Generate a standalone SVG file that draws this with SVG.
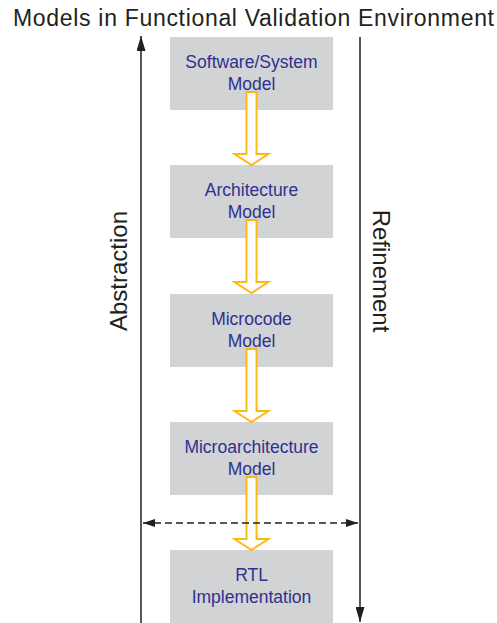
<svg xmlns="http://www.w3.org/2000/svg" width="497" height="623" viewBox="0 0 497 623">
  <style>
    .title { font-family: "Liberation Sans", Arial, sans-serif; font-size: 23px; fill: #231f20; }
    .side { font-family: "Liberation Sans", Arial, sans-serif; font-size: 24px; fill: #231f20; }
    .box { fill: #d1d3d4; }
    .label { font-family: "Liberation Sans", Arial, sans-serif; font-size: 17.5px; fill: #2e3192; text-anchor: middle; }
    .flow { fill: #ffffff; stroke: #fdb913; stroke-width: 2; stroke-linejoin: miter; }
    .axis { stroke: #231f20; stroke-width: 1.5; fill: none; }
    .dash { stroke: #231f20; stroke-width: 1.5; fill: none; stroke-dasharray: 7 4; }
  </style>
  <defs>
    <marker id="head" viewBox="0 0 15 9" refX="15" refY="4.5" markerWidth="15" markerHeight="9" markerUnits="userSpaceOnUse" orient="auto">
      <path d="M0,0 L15,4.5 L0,9 Z" fill="#231f20"/>
    </marker>
    <marker id="headSmall" viewBox="0 0 12 8" refX="12" refY="4" markerWidth="12" markerHeight="8" markerUnits="userSpaceOnUse" orient="auto-start-reverse">
      <path d="M0,0 L12,4 L0,8 Z" fill="#231f20"/>
    </marker>
  </defs>

  <text class="title" x="13" y="26" textLength="481" lengthAdjust="spacing">Models in Functional Validation Environment</text>

  <!-- side axes -->
  <g id="abstraction">
    <line class="axis" x1="141" y1="623" x2="141" y2="36" marker-end="url(#head)"/>
    <text class="side" transform="translate(127,271) rotate(-90)" text-anchor="middle">Abstraction</text>
  </g>
  <g id="refinement">
    <line class="axis" x1="360" y1="37" x2="360" y2="622" marker-end="url(#head)"/>
    <text class="side" transform="translate(373,271) rotate(90)" text-anchor="middle">Refinement</text>
  </g>

  <!-- model boxes -->
  <g id="software-system-model">
    <rect class="box" x="170" y="37" width="163" height="73"/>
    <text class="label" x="251.5" y="68">Software/System</text>
    <text class="label" x="251.5" y="90">Model</text>
  </g>
  <g id="architecture-model">
    <rect class="box" x="170" y="165" width="163" height="73"/>
    <text class="label" x="251.5" y="196">Architecture</text>
    <text class="label" x="251.5" y="218">Model</text>
  </g>
  <g id="microcode-model">
    <rect class="box" x="170" y="294" width="163" height="73"/>
    <text class="label" x="251.5" y="325">Microcode</text>
    <text class="label" x="251.5" y="347">Model</text>
  </g>
  <g id="microarchitecture-model">
    <rect class="box" x="170" y="422" width="163" height="73"/>
    <text class="label" x="251.5" y="453">Microarchitecture</text>
    <text class="label" x="251.5" y="475">Model</text>
  </g>
  <g id="rtl-implementation">
    <rect class="box" x="170" y="550" width="163" height="73"/>
    <text class="label" x="251.5" y="581">RTL</text>
    <text class="label" x="251.5" y="603">Implementation</text>
  </g>

  <!-- connectors -->
  <g id="connectors">
    <path class="flow" d="M246.5,92 H256.5 V154 H268.5 L251.5,165 L234.5,154 H246.5 Z"/>
    <path class="flow" d="M246.5,220 H256.5 V282 H268.5 L251.5,293 L234.5,282 H246.5 Z"/>
    <path class="flow" d="M246.5,349 H256.5 V411 H268.5 L251.5,422 L234.5,411 H246.5 Z"/>
    <path class="flow" d="M246.5,477 H256.5 V539 H268.5 L251.5,550 L234.5,539 H246.5 Z"/>
    <line class="dash" x1="143" y1="523" x2="358" y2="523" marker-start="url(#headSmall)" marker-end="url(#headSmall)"/>
  </g>
</svg>
